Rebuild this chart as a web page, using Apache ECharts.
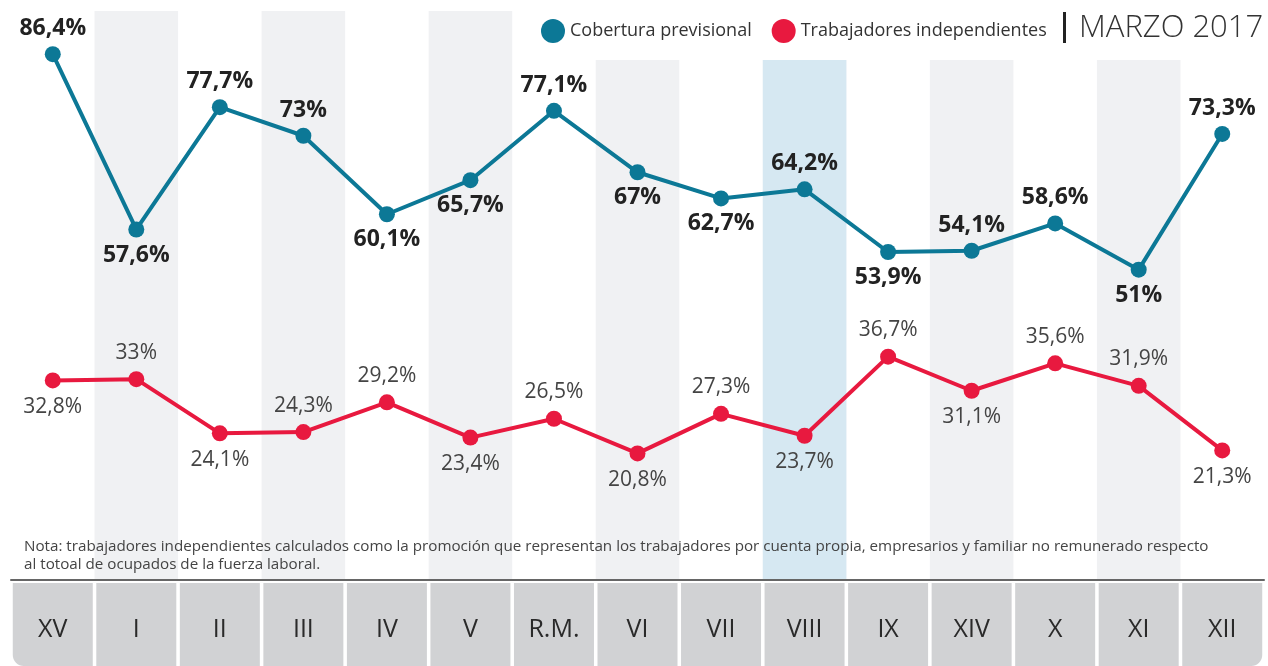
<!DOCTYPE html>
<html>
<head>
<meta charset="utf-8">
<script src="https://cdn.jsdelivr.net/npm/echarts@6/dist/echarts.min.js"></script>
<style>
  html, body { margin: 0; padding: 0; background: #fff; }
  #chart { width: 1268px; height: 666px; }
</style>
</head>
<body>
<div id="chart"></div>
<script>
const regions = ["XV", "I", "II", "III", "IV", "V", "R.M.", "VI", "VII", "VIII", "IX", "XIV", "X", "XI", "XII"];
const cobertura = [86.4, 57.6, 77.7, 73, 60.1, 65.7, 77.1, 67, 62.7, 64.2, 53.9, 54.1, 58.6, 51, 73.3];
const independientes = [32.8, 33, 24.1, 24.3, 29.2, 23.4, 26.5, 20.8, 27.3, 23.7, 36.7, 31.1, 35.6, 31.9, 21.3];
const highlighted = "VIII";

// where each value label sits relative to its point
const coberturaLabelSide = ["top", "bottom", "top", "top", "bottom", "bottom", "top", "bottom", "bottom", "top", "bottom", "top", "top", "bottom", "top"];
const independLabelSide = ["bottom", "top", "bottom", "top", "top", "bottom", "top", "bottom", "top", "bottom", "top", "bottom", "top", "top", "bottom"];

const FONT = "'Open Sans', Lato, sans-serif";
const BLUE = "#0c7896";
const RED = "#e8193f";

const fmt = (v) => String(v).replace(".", ",") + "%";

const chart = echarts.init(document.getElementById("chart"));

function lineSeries(name, values, sides, color, labelStyle) {
  return {
    name: name,
    type: "line",
    z: 3,
    symbol: "circle",
    symbolSize: 16,
    lineStyle: { color: color, width: 4 },
    itemStyle: { color: color },
    data: values.map((v, i) => ({
      value: v,
      label: { position: sides[i] }
    })),
    label: Object.assign({
      show: true,
      fontFamily: FONT,
      formatter: (p) => fmt(p.value)
    }, labelStyle)
  };
}

// grey region cells under the axis
const cell = { width: 80, height: 73, lineHeight: 73, padding: [10, 0, 0, 0], align: "center", fontSize: 25, color: "#2a2a2a", backgroundColor: "#d1d2d4", fontFamily: FONT };

chart.setOption({
  animation: false,
  textStyle: { fontFamily: FONT },
  legend: {
    left: 536,
    top: 14,
    icon: "circle",
    itemWidth: 24,
    itemHeight: 24,
    itemGap: 20,
    textStyle: { fontSize: 18, color: "#333", fontFamily: FONT },
    data: ["Cobertura previsional", "Trabajadores independientes"]
  },
  grid: { left: 11, right: 4, top: 11, bottom: 86 },
  xAxis: {
    type: "category",
    data: regions,
    boundaryGap: true,
    axisTick: { show: false },
    axisLine: { show: true, lineStyle: { color: "#666", width: 2 } },
    splitArea: { show: true, areaStyle: { color: ["rgba(255,255,255,0)", "#f0f1f3"] } },
    axisLabel: {
      interval: 0,
      margin: 8,
      formatter: (v, i) => {
        if (i === 0) return "{first|" + v + "}";
        if (i === regions.length - 1) return "{last|" + v + "}";
        return "{mid|" + v + "}";
      },
      rich: {
        mid: cell,
        first: Object.assign({}, cell, { borderRadius: [0, 0, 0, 11] }),
        last: Object.assign({}, cell, { borderRadius: [0, 0, 11, 0] })
      }
    }
  },
  yAxis: {
    type: "value",
    min: 0,
    max: 93.5,
    show: false,
    splitLine: { show: false }
  },
  series: [
    lineSeries("Cobertura previsional", cobertura, coberturaLabelSide, BLUE,
      { fontSize: 23, fontWeight: "bold", color: "#222", distance: 6 }),
    lineSeries("Trabajadores independientes", independientes, independLabelSide, RED,
      { fontSize: 21, color: "#444", distance: 8 })
  ]
});

// background pieces placed from the axis scale
const idx = regions.indexOf(highlighted);
const cx = chart.convertToPixel({ xAxisIndex: 0 }, idx);
const bw = chart.convertToPixel({ xAxisIndex: 0 }, 1) - chart.convertToPixel({ xAxisIndex: 0 }, 0);
const yBase = chart.convertToPixel({ yAxisIndex: 0 }, 0);

chart.setOption({
  graphic: [
    {
      type: "rect", z: 1, silent: true,
      shape: { x: 530, y: 0, width: 738, height: 60 },
      style: { fill: "#fff" }
    },
    {
      type: "rect", z: 1, silent: true,
      shape: { x: cx - bw / 2, y: 60, width: bw, height: yBase - 61 },
      style: { fill: "#d6e8f2" }
    },
    {
      type: "rect", z: 1, silent: true,
      shape: { x: 1063, y: 12, width: 3, height: 31 },
      style: { fill: "#222" }
    },
    {
      type: "text", z: 1,
      x: 1079, y: 28,
      style: { text: "MARZO 2017", fontSize: 31, fontWeight: 300, fill: "#333", fontFamily: FONT, verticalAlign: "middle" }
    },
    {
      type: "text", z: 4,
      x: 24, y: 538,
      style: {
        text: "Nota: trabajadores independientes calculados como la promoción que representan los trabajadores por cuenta propia, empresarios y familiar no remunerado respecto\nal totoal de ocupados de la fuerza laboral.",
        fontSize: 15.2, lineHeight: 18, fill: "#444", fontFamily: FONT
      }
    }
  ]
});
</script>
</body>
</html>
